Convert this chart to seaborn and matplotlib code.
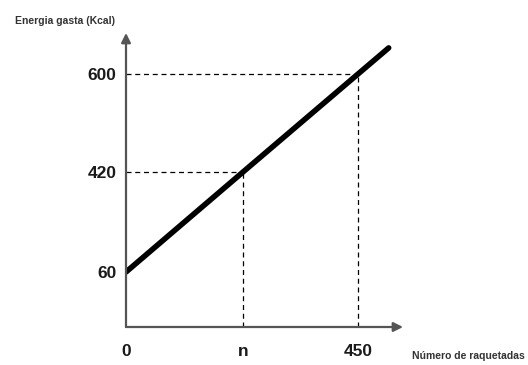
import numpy as np
import matplotlib
matplotlib.use("Agg")
import matplotlib.pyplot as plt
import seaborn as sns

# chart data (schematic: line energy vs number of strokes)
x_line = [0, 300, 450, 490]
y_line = [60, 420, 600, 648]
x_ticks = [0, 300, 450]
x_tick_labels = ["0", "n", "450"]
y_ticks = [60, 420, 600]
y_tick_labels = ["60", "420", "600"]
guide_x = [300, 450]
guide_y = [420, 600]

sns.set_style("white")
plt.rcParams["font.family"] = ["Liberation Sans Narrow", "Liberation Sans", "DejaVu Sans"]

# the picture is not to scale, so use piecewise scales
xk_data = [-1000, 0, 300, 450, 1500]
xk_px = [-767, 0, 117, 232, 232 + 1050 * 0.767]
yk_data = [-1000, 0, 60, 420, 600, 1600]
yk_px = [-917, 0, 55, 155, 253, 253 + 1000 * 0.544]

def fx(v):
    return np.interp(v, xk_data, xk_px)

def ix(v):
    return np.interp(v, xk_px, xk_data)

def fy(v):
    return np.interp(v, yk_data, yk_px)

def iy(v):
    return np.interp(v, yk_px, yk_data)

fig = plt.figure(figsize=(5.28, 3.65), dpi=100)
ax = fig.add_axes([126 / 528, 38 / 365, 277 / 528, 294 / 365])
ax.set_xscale("function", functions=(fx, ix))
ax.set_yscale("function", functions=(fy, iy))
ax.set_xlim(0, float(ix(277)))
ax.set_ylim(0, float(iy(294)))

for gx, gy in zip(guide_x, guide_y):
    ax.plot([0, gx], [gy, gy], color="black", lw=0.9, dashes=(4, 3))
    ax.plot([gx, gx], [0, gy], color="black", lw=0.9, dashes=(4, 3))

sns.lineplot(x=x_line, y=y_line, color="black", lw=4, ax=ax)

for s in ax.spines.values():
    s.set_visible(False)

# axes with arrowheads
axis_col = "#555555"
ax.annotate("", xy=(1, 0), xytext=(0, 0), xycoords="axes fraction",
            arrowprops=dict(arrowstyle="-|>", color=axis_col, lw=1.6,
                            mutation_scale=14, shrinkA=0, shrinkB=0))
ax.annotate("", xy=(0, 1), xytext=(0, 0), xycoords="axes fraction",
            arrowprops=dict(arrowstyle="-|>", color=axis_col, lw=1.6,
                            mutation_scale=14, shrinkA=0, shrinkB=0))

ax.set_xticks(x_ticks, labels=x_tick_labels)
ax.set_yticks(y_ticks, labels=y_tick_labels)
ax.tick_params(axis="x", length=0, pad=12, labelsize=12.5)
ax.tick_params(axis="y", length=0, pad=7, labelsize=12.5)
for lab in ax.get_xticklabels() + ax.get_yticklabels():
    lab.set_fontweight("bold")
    lab.set_color("#1a1a1a")

fig.text(15 / 528, 1 - 21 / 365, "Energia gasta (Kcal)", fontsize=7.5,
         fontweight="bold", va="center", ha="left", color="#333333")
fig.text(412 / 528, 9 / 365, "Número de raquetadas", fontsize=7.5,
         fontweight="bold", va="center", ha="left", color="#333333")

fig.savefig("out.png", dpi=100)
